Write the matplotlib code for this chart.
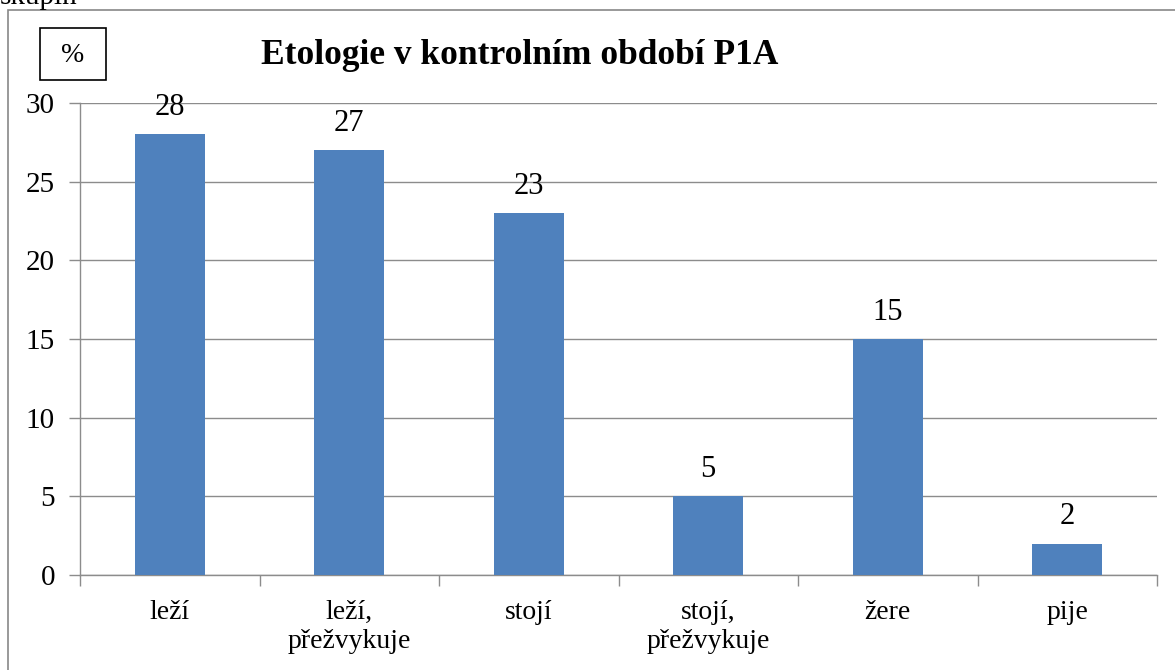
import matplotlib
matplotlib.use("Agg")
import matplotlib.pyplot as plt
from matplotlib.patches import Rectangle

categories = ["leží", "leží,\npřežvykuje", "stojí", "stojí,\npřežvykuje", "žere", "pije"]
values = [28, 27, 23, 5, 15, 2]
yticks = [0, 5, 10, 15, 20, 25, 30]
title = "Etologie v kontrolním období P1A"

plt.rcParams['font.family'] = ['Liberation Serif', 'DejaVu Serif']

W, H = 1175, 670
fig = plt.figure(figsize=(W/100, H/100), dpi=100)

def fx(px): return px / W
def fy(py): return 1 - py / H

# outer chart frame
fig.patches.append(Rectangle((fx(8), fy(700)), fx(1200) - fx(8), fy(10) - fy(700),
                             transform=fig.transFigure, fill=False, edgecolor='#888888', lw=1.2))
# cut-off text at top (as in the reference)
fig.text(fx(0), fy(4), "skupin", fontsize=21, va='baseline', ha='left')

ax = fig.add_axes([fx(80), fy(575), fx(1157) - fx(80), fy(103) - fy(575)])
x = list(range(len(categories)))
ax.bar(x, values, width=0.39, color='#4F81BD', zorder=3)
ax.set_xlim(-0.5, len(categories) - 0.5)
ax.set_ylim(0, 30)
ax.set_yticks(yticks)
ax.set_yticklabels([str(t) for t in yticks], fontsize=21)
ax.yaxis.grid(True, color='#8c8c8c', lw=1, zorder=0)
ax.set_xticks(x)
ax.set_xticklabels(categories, fontsize=20, linespacing=1.2)
ax.set_xticks([i - 0.5 for i in range(len(categories) + 1)], minor=True)
ax.tick_params(axis='x', which='major', length=0, pad=18)
ax.tick_params(axis='x', which='minor', length=8, color='#8c8c8c', width=1)
ax.tick_params(axis='y', length=8, color='#8c8c8c', width=1, pad=10)
for s in ['top', 'right']:
    ax.spines[s].set_visible(False)
for s in ['left', 'bottom']:
    ax.spines[s].set_color('#8c8c8c')
    ax.spines[s].set_linewidth(1)

for xi, v in zip(x, values):
    ax.annotate(str(v), (xi, v), xytext=(0, 9), textcoords='offset points',
                ha='center', va='bottom', fontsize=22)

fig.text(fx(520), fy(55), title, fontsize=25.5, fontweight='bold', ha='center', va='center')
fig.patches.append(Rectangle((fx(40), fy(80)), fx(106) - fx(40), fy(28) - fy(80),
                             transform=fig.transFigure, fill=False, edgecolor='black', lw=1.2))
fig.text(fx(73), fy(56), "%", fontsize=20, ha='center', va='center')

fig.savefig("out.png", dpi=100)
